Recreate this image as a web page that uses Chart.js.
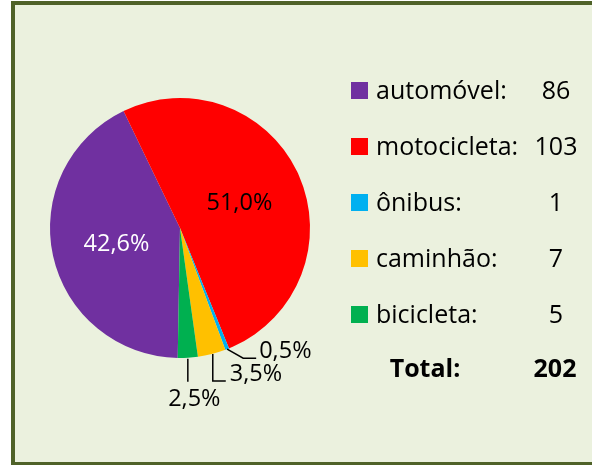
<!DOCTYPE html>
<html>
<head>
<meta charset="utf-8">
<script src="https://cdn.jsdelivr.net/npm/chart.js@4/dist/chart.umd.min.js"></script>
<style>
  html, body { margin: 0; padding: 0; background: #ffffff; }
  #frame {
    position: absolute; left: 11px; top: 1px; width: 600px; height: 465px;
    box-sizing: border-box; border: 4px solid #4F6228; background: #EBF1DE;
  }
  #pie { position: absolute; left: 0; top: 0; }
</style>
</head>
<body>
<div id="frame"></div>
<canvas id="pie" width="592" height="465"></canvas>
<script>
// dados do gráfico
const categorias = ['automóvel', 'motocicleta', 'ônibus', 'caminhão', 'bicicleta'];
const quantidades = [86, 103, 1, 7, 5];
const cores = ['#7030A0', '#FF0000', '#00B0F0', '#FFC000', '#00B050'];
const totalLabel = 'Total:';

const total = quantidades.reduce((a, b) => a + b, 0);
const FONTE = '"Open Sans", "Noto Sans", sans-serif';

function pct(v) {
    return (v / total * 100).toFixed(1).replace('.', ',') + '%';
}

// rótulos de porcentagem (dentro e fora da pizza)
const rotulosPlugin = {
    id: 'rotulos',
    afterDatasetsDraw(chart) {
        const ctx = chart.ctx;
        const arcs = chart.getDatasetMeta(0).data;
        ctx.save();
        ctx.font = '23.5px ' + FONTE;
        ctx.lineWidth = 1.5;
        ctx.strokeStyle = '#000';
        arcs.forEach((arc, i) => {
            const txt = pct(quantidades[i]);
            const p = arc.getProps(['x', 'y', 'startAngle', 'endAngle', 'outerRadius'], true);
            const mid = (p.startAngle + p.endAngle) / 2;
            const ex = p.x + Math.cos(mid) * p.outerRadius;
            const ey = p.y + Math.sin(mid) * p.outerRadius;

            if (i === 0 || i === 1) {
                const pos = arc.tooltipPosition(true);
                ctx.fillStyle = i === 0 ? '#ffffff' : '#000000';
                ctx.textAlign = 'center';
                ctx.textBaseline = 'middle';
                ctx.fillText(txt, pos.x, pos.y + 2);
                return;
            }

            ctx.fillStyle = '#000000';
            ctx.textBaseline = 'alphabetic';
            ctx.beginPath();
            if (i === 2) {
                ctx.moveTo(ex, ey);
                ctx.lineTo(ex + 16, ey + 9);
                ctx.lineTo(ex + 29, ey + 9);
                ctx.stroke();
                ctx.textAlign = 'left';
                ctx.fillText(txt, ex + 32, ey + 9);
            } else if (i === 3) {
                ctx.moveTo(ex + 1, ey);
                ctx.lineTo(ex + 1, ey + 27);
                ctx.lineTo(ex + 14, ey + 27);
                ctx.stroke();
                ctx.textAlign = 'left';
                ctx.fillText(txt, ex + 18, ey + 27);
            } else {
                ctx.moveTo(ex, ey + 1);
                ctx.lineTo(ex, ey + 24);
                ctx.stroke();
                ctx.textAlign = 'center';
                ctx.fillText(txt, ex + 6.5, ey + 48);
            }
        });
        ctx.restore();
    }
};

// legenda com valores e total
const legendaPlugin = {
    id: 'legendaTabela',
    afterDraw(chart) {
        const ctx = chart.ctx;
        ctx.save();
        ctx.textBaseline = 'alphabetic';
        const y0 = 99, passo = 56;
        categorias.forEach((c, i) => {
            const y = y0 + i * passo;
            ctx.fillStyle = cores[i];
            ctx.fillRect(351, y - 17, 17, 17);
            ctx.fillStyle = '#000';
            ctx.font = '25px ' + FONTE;
            ctx.textAlign = 'left';
            ctx.fillText(c + ':', 376, y);
            ctx.textAlign = 'center';
            ctx.fillText(String(quantidades[i]), 556, y);
        });
        const yt = y0 + categorias.length * passo - 2;
        ctx.font = 'bold 25px ' + FONTE;
        ctx.textAlign = 'center';
        ctx.fillText(totalLabel, 425, yt);
        ctx.fillText(String(total), 555, yt);
        ctx.restore();
    }
};

new Chart(document.getElementById('pie'), {
    type: 'pie',
    data: {
        labels: categorias,
        datasets: [{
            data: quantidades,
            backgroundColor: cores,
            borderWidth: 0,
            hoverOffset: 0
        }]
    },
    options: {
        responsive: false,
        animation: false,
        rotation: 181,
        layout: { padding: { left: 50, right: 282, top: 98, bottom: 107 } },
        plugins: {
            legend: { display: false },
            tooltip: { enabled: false }
        }
    },
    plugins: [rotulosPlugin, legendaPlugin]
});
</script>
</body>
</html>
